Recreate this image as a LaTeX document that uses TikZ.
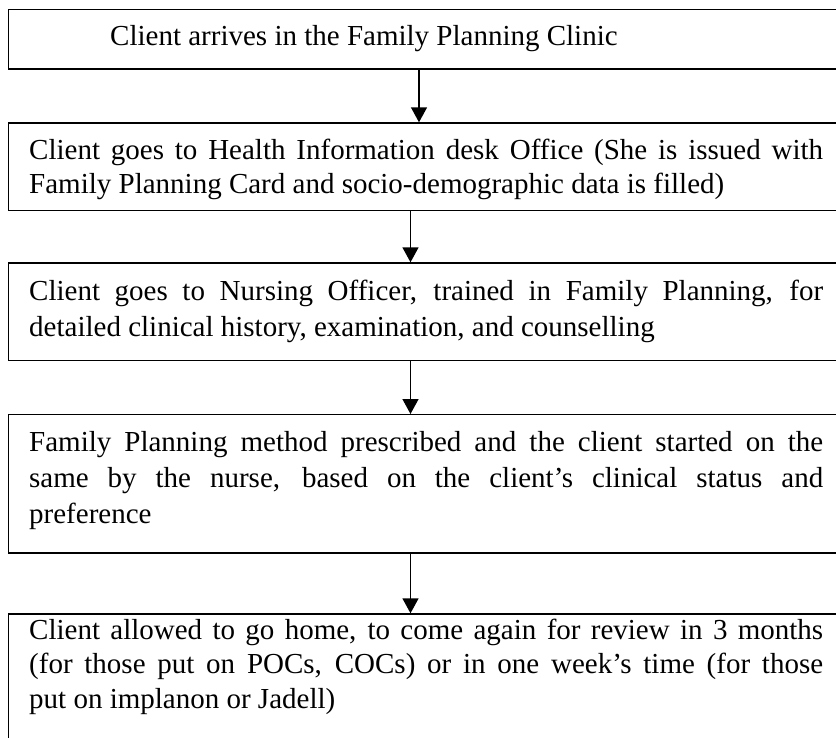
\documentclass[tikz,border=0pt]{standalone}
\usepackage{fontspec}
\setmainfont{Liberation Serif}
\usetikzlibrary{arrows.meta}
\begin{document}
\begin{tikzpicture}[x=1pt,y=-1pt,
  stage/.style={draw, line width=1.4pt, rectangle, anchor=north west, inner sep=0pt, minimum width=860pt},
  title/.style={anchor=base west, inner sep=0pt, font=\fontsize{29}{34}\selectfont},
  body/.style={anchor=base west, inner sep=0pt, text width=794pt, align=justify, font=\fontsize{29}{#1}\selectfont},
  flow/.style={line width=1.4pt, -{Triangle[length=15pt,width=16pt]}}
]
\useasboundingbox (0,0) rectangle (836,737);
\clip (0,0) rectangle (836,737);

% the five stages of the clinic visit
\node[stage, minimum height=59.8pt]  (b1) at (8,8.5) {};
\node[stage, minimum height=87.7pt]  (b2) at (8,122.3) {};
\node[stage, minimum height=97.7pt]  (b3) at (8,262.3) {};
\node[stage, minimum height=138.3pt] (b4) at (8,414) {};
\node[stage, minimum height=150pt]   (b5) at (8,613.3) {};

% texts
\node[title] (t1) at (110,45.6) {Client arrives in the Family Planning Clinic};
\begin{scope}
  \clip (0,122.3) rectangle (836,200);
  \node[body=34] (t2) at (29,159.3) {Client goes to Health Information desk Office (She is issued with\linebreak Family Planning Card and socio-demographic data is filled)};
\end{scope}
\node[body=36] (t3) at (29,300) {Client goes to Nursing Officer, trained in Family Planning, for\linebreak detailed clinical history, examination, and counselling};
\node[body=35.9] (t4) at (29,451.7) {Family Planning method prescribed and the client started on the\linebreak same by the nurse, based on the client’s clinical status and\linebreak preference};
\node[body=34.5] (t5) at (29,639) {Client allowed to go home, to come again for review in 3 months\linebreak (for those put on POCs, COCs) or in one week’s time (for those\linebreak put on implanon or Jadell)};

% arrows between stages
\draw[flow] (b1.south -| 419,0) -- (b2.north -| 419,0);
\draw[flow] (b2.south -| 410.5,0) -- (b3.north -| 410.5,0);
\draw[flow] (b3.south -| 410.5,0) -- (b4.north -| 410.5,0);
\draw[flow] (b4.south -| 410.5,0) -- (b5.north -| 410.5,0);
\end{tikzpicture}
\end{document}
